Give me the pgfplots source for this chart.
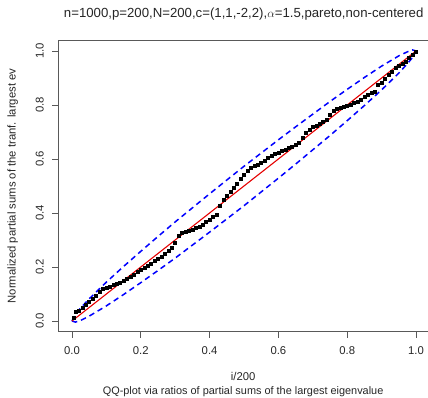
\documentclass[border=0pt]{standalone}
\usepackage{fontspec}
\setmainfont{Liberation Sans}
\usepackage{pgfplots}
\pgfplotsset{compat=1.18}
\begin{document}
\begin{tikzpicture}
\begin{axis}[
  scale only axis,
  width=369.8pt, height=291.6pt,
  xmin=-0.04, xmax=1.0349, ymin=-0.04, ymax=1.04,
  axis x line*=box, axis y line*=left,
  axis line style={-, draw=black!65, line width=0.9pt},
  xtick pos=left, ytick pos=left,
  tick align=outside,
  major tick length=6pt,
  every tick/.style={draw=black!65, line width=0.9pt},
  xtick={0,0.2,0.4,0.6,0.8,1},
  ytick={0,0.2,0.4,0.6,0.8,1},
  /pgf/number format/assume math mode=true,
  /pgf/number format/fixed, /pgf/number format/fixed zerofill, /pgf/number format/precision=1,
  ticklabel style={font=\fontsize{11.3}{13}\selectfont, text=black!85},
  xticklabel style={anchor=north, inner sep=0pt},
  yticklabel style={rotate=90, anchor=south, inner sep=0pt},
  xticklabel shift=8.8pt,
  yticklabel shift=8.2pt,
  clip=false,
]
\coordinate (O) at (rel axis cs:0,0);
% confidence bands
\addplot[blue, line width=1.5pt, dash pattern=on 5.5pt off 4pt] coordinates {
(0,0) (0.01,0.024) (0.025,0.048) (0.05,0.082) (0.1,0.144) (0.15,0.202) (0.2,0.258) (0.25,0.313) (0.3,0.367) (0.35,0.419) (0.4,0.471) (0.45,0.522) (0.5,0.573) (0.55,0.622) (0.6,0.671) (0.65,0.719) (0.7,0.766) (0.75,0.813) (0.8,0.858) (0.85,0.902) (0.9,0.944) (0.95,0.982) (0.975,0.997) (0.99,1.004) (1,1)
};
\addplot[blue, line width=1.5pt, dash pattern=on 5.5pt off 4pt] coordinates {
(0,0) (0.01,-0.004) (0.025,0.002) (0.05,0.018) (0.1,0.056) (0.15,0.098) (0.2,0.142) (0.25,0.187) (0.3,0.233) (0.35,0.281) (0.4,0.329) (0.45,0.378) (0.5,0.427) (0.55,0.478) (0.6,0.529) (0.65,0.581) (0.7,0.634) (0.75,0.687) (0.8,0.742) (0.85,0.798) (0.9,0.856) (0.95,0.918) (0.975,0.953) (0.99,0.976) (1,1)
};
% red reference line
\addplot[red!90!black, line width=1.1pt] coordinates {(0,0) (0.5,0.5) (1,1)};
% points
\addplot[only marks, mark=square*, mark size=1.5pt, black] coordinates {
(0.005,0.012) (0.01,0.034) (0.02,0.040) (0.03,0.049) (0.04,0.062) (0.05,0.073) (0.06,0.084) (0.07,0.094) (0.08,0.108) (0.09,0.121)
(0.10,0.125) (0.11,0.128) (0.12,0.133) (0.13,0.138) (0.14,0.143) (0.15,0.150) (0.16,0.156) (0.17,0.163) (0.18,0.172) (0.19,0.181)
(0.20,0.190) (0.21,0.198) (0.22,0.206) (0.23,0.214) (0.24,0.222) (0.25,0.230) (0.26,0.240) (0.27,0.250) (0.28,0.260) (0.29,0.272)
(0.30,0.290) (0.31,0.315) (0.32,0.327) (0.33,0.331) (0.34,0.335) (0.35,0.339) (0.36,0.344) (0.37,0.351) (0.38,0.358) (0.39,0.366)
(0.40,0.375) (0.41,0.386) (0.42,0.395) (0.43,0.428) (0.44,0.448) (0.45,0.465) (0.46,0.480) (0.47,0.495) (0.48,0.510) (0.49,0.527)
(0.50,0.543) (0.51,0.557) (0.52,0.567) (0.53,0.574) (0.54,0.580) (0.55,0.587) (0.56,0.595) (0.57,0.604) (0.58,0.612) (0.59,0.619)
(0.60,0.625) (0.61,0.631) (0.62,0.636) (0.63,0.641) (0.64,0.645) (0.65,0.652) (0.66,0.660) (0.67,0.678) (0.68,0.697) (0.69,0.709)
(0.70,0.718) (0.71,0.725) (0.72,0.731) (0.73,0.737) (0.74,0.744) (0.75,0.765) (0.76,0.780) (0.77,0.785) (0.78,0.789) (0.79,0.793)
(0.80,0.797) (0.81,0.801) (0.82,0.807) (0.83,0.814) (0.84,0.821) (0.85,0.829) (0.86,0.838) (0.87,0.845) (0.88,0.850) (0.89,0.874)
(0.90,0.882) (0.91,0.898) (0.92,0.912) (0.93,0.925) (0.94,0.937) (0.95,0.945) (0.96,0.952) (0.97,0.962) (0.98,0.975) (0.99,0.988) (1.00,0.998)
};
% texts
\node[font=\fontsize{13.2}{15}\selectfont, text=black!85] at ([xshift=185.5pt, yshift=317.6pt]O) {n=1000,p=200,N=200,c=(1,1,-2,2),$\alpha$=1.5,pareto,non-centered};
\node[font=\fontsize{11.3}{13}\selectfont, text=black!85] at ([xshift=184.9pt, yshift=-44.9pt]O) {i/200};
\node[font=\fontsize{10.9}{13}\selectfont, text=black!85] at ([xshift=184.9pt, yshift=-59.9pt]O) {QQ-plot via ratios of partial sums of the largest eigenvalue};
\node[font=\fontsize{11.3}{13}\selectfont, text=black!85, rotate=90] at ([xshift=-45.5pt, yshift=145.8pt]O) {Normalized partial sums of the tranf. largest ev};
\end{axis}
\pgfresetboundingbox
\path[use as bounding box] (O) ++(-58.2pt,-65.2pt) rectangle ++(428pt,397pt);
\end{tikzpicture}
\end{document}
